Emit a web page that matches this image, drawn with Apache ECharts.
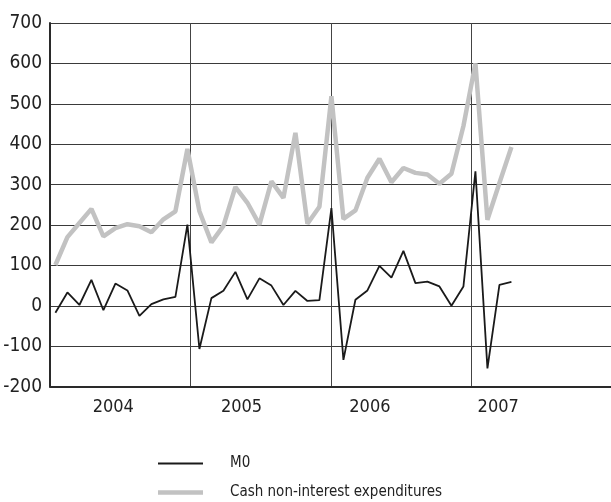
<!DOCTYPE html>
<html>
<head>
<meta charset="utf-8">
<script src="https://cdn.jsdelivr.net/npm/echarts@6/dist/echarts.min.js"></script>
<style>
html,body{margin:0;padding:0;background:#fff;}
#chart{width:611px;height:502px;}
</style>
</head>
<body>
<div id="chart"></div>
<script>
// Monthly observations, Jan 2004 – Mar 2007
const months = [
  '2004-01','2004-02','2004-03','2004-04','2004-05','2004-06','2004-07','2004-08','2004-09','2004-10','2004-11','2004-12',
  '2005-01','2005-02','2005-03','2005-04','2005-05','2005-06','2005-07','2005-08','2005-09','2005-10','2005-11','2005-12',
  '2006-01','2006-02','2006-03','2006-04','2006-05','2006-06','2006-07','2006-08','2006-09','2006-10','2006-11','2006-12',
  '2007-01','2007-02','2007-03'
];
const m0 = [
  -17, 33, 2, 64, -11, 55, 38, -25, 4, 16, 22, 201,
  -107, 19, 37, 84, 16, 68, 50, 2, 37, 12, 14, 242,
  -134, 15, 38, 99, 70, 136, 56, 60, 48, 0, 48, 333,
  -155, 52, 59
];
const cashExp = [
  101, 170, 205, 240, 172, 192, 202, 197, 182, 214, 234, 388,
  234, 157, 198, 294, 255, 201, 308, 267, 428, 203, 245, 519,
  215, 236, 317, 364, 306, 341, 329, 325, 302, 327, 445, 600,
  213, 304, 393
];
const years = ['2004', '2005', '2006', '2007'];
const yTicks = [-200, -100, 0, 100, 200, 300, 400, 500, 600, 700];
const seriesNames = ['M0', 'Cash non-interest expenditures'];

const FONT = '"DejaVu Sans", sans-serif';
const STRETCH = 'condensed';
const chart = echarts.init(document.getElementById('chart'), null, {renderer: 'canvas'});

const yearNums = years.map(Number);

chart.setOption({
  backgroundColor: '#ffffff',
  animation: false,
  grid: {left: 50, top: 23, width: 562, height: 363.6, containLabel: false, outerBoundsMode: 'none'},
  legend: {
    orient: 'vertical',
    left: 153,
    top: 451,
    height: 80,
    itemWidth: 45,
    itemHeight: 14,
    itemGap: 14,
    data: [
      {name: seriesNames[0], icon: 'path://M0,0H100V4H0Z'},
      {name: seriesNames[1], icon: 'path://M0,0H100V10H0Z'}
    ],
    textStyle: {fontFamily: FONT, fontWeight: STRETCH, fontSize: 15, color: '#222', lineHeight: 14, padding: [0, 0, 0, 22]}
  },
  xAxis: [
    {
      type: 'value', min: -0.45, max: 46.38, show: false
    },
    {
      type: 'value', min: 0, max: years.length, interval: 1, position: 'bottom',
      axisLine: {show: true, onZero: false, lineStyle: {color: '#2a2a2a', width: 2}},
      axisTick: {show: false}, axisLabel: {show: false},
      splitLine: {show: true, lineStyle: {color: '#444', width: 1}}
    },
    {
      type: 'value', min: 2003.507, max: 2007.887, position: 'bottom',
      axisLine: {show: false}, axisTick: {show: false}, splitLine: {show: false},
      axisLabel: {
        show: true, customValues: yearNums, margin: 12,
        formatter: v => String(Math.round(v)),
        fontFamily: FONT, fontWeight: STRETCH, fontSize: 18, color: '#222'
      }
    }
  ],
  yAxis: {
    type: 'value', min: yTicks[0], max: yTicks[yTicks.length - 1], interval: 100,
    axisLine: {show: true, onZero: false, lineStyle: {color: '#2a2a2a', width: 2}},
    axisTick: {show: false},
    axisLabel: {fontFamily: FONT, fontWeight: STRETCH, fontSize: 19, color: '#222', margin: 8},
    splitLine: {show: true, lineStyle: {color: '#3a3a3a', width: 1}}
  },
  series: [
    {
      name: seriesNames[0], type: 'line', xAxisIndex: 0, z: 4,
      data: m0.map((v, i) => [i, v]),
      symbol: 'none', showSymbol: false,
      lineStyle: {color: '#1a1a1a', width: 1.8},
      itemStyle: {color: '#1a1a1a'}
    },
    {
      name: seriesNames[1], type: 'line', xAxisIndex: 0, z: 3,
      data: cashExp.map((v, i) => [i, v]),
      symbol: 'none', showSymbol: false,
      lineStyle: {color: '#c2c2c2', width: 4.5},
      itemStyle: {color: '#c2c2c2'}
    }
  ]
});
</script>
</body>
</html>
